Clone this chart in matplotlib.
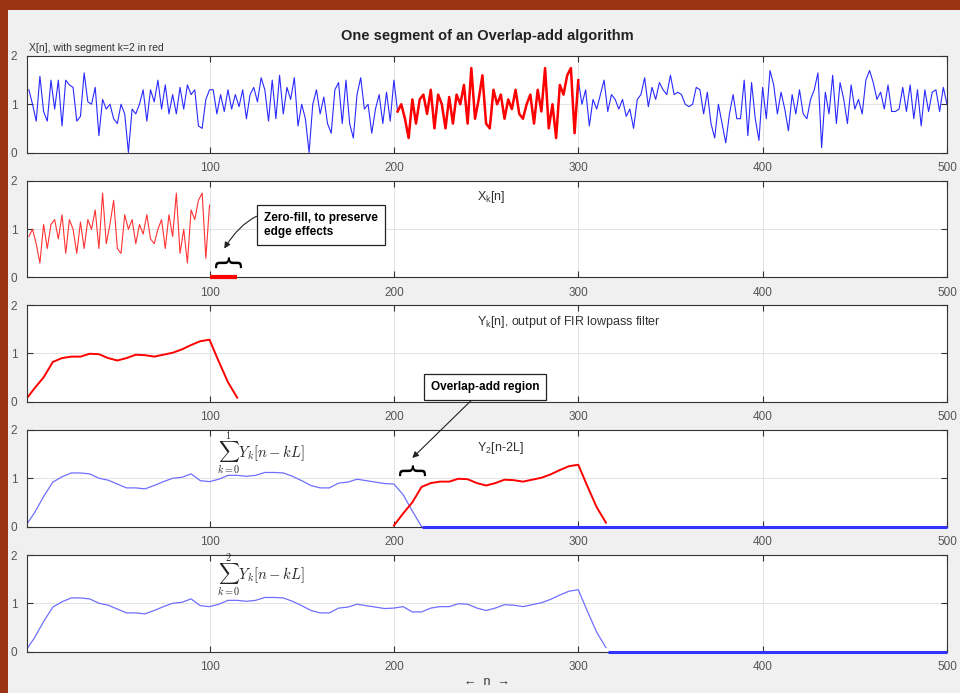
import numpy as np
import matplotlib
matplotlib.use("Agg")
import matplotlib.pyplot as plt
from matplotlib.patches import Rectangle

# input x[n], read every 2nd sample from the plot (n = 2, 4, ..., 500)
x_first = [1.3, 1.0, 0.65, 1.58, 0.85, 0.65, 1.5, 0.9, 1.5, 0.55,
           1.5, 1.4, 1.35, 0.65, 0.75, 1.65, 1.05, 1.0, 1.35, 0.35,
           1.1, 0.9, 1.0, 0.7, 0.6, 1.0, 0.8, 0.0, 0.9, 0.8,
           1.0, 1.3, 0.65, 1.3, 1.05, 1.5, 0.9, 1.4, 0.8, 1.2,
           0.8, 1.35, 0.9, 1.4, 1.2, 1.3, 0.55, 0.5, 1.1, 1.3]
x_second = [1.3, 0.8, 1.2, 0.85, 1.3, 0.9, 1.2, 0.95, 1.3, 0.7,
            1.2, 1.35, 1.05, 1.55, 1.3, 0.65, 1.5, 0.7, 1.6, 0.8,
            1.35, 1.1, 1.55, 0.55, 1.0, 0.7, 0.0, 1.0, 1.3, 0.8,
            1.15, 0.6, 0.4, 1.3, 1.45, 0.6, 1.5, 0.6, 0.3, 1.2,
            1.55, 0.9, 1.0, 0.4, 0.9, 1.2, 0.6, 1.25, 0.65, 1.5]
# segment k=2 (n = 202..300)
x_seg = [0.85, 1.0, 0.7, 0.3, 1.1, 0.6, 1.1, 1.2, 0.8, 1.3,
         0.5, 1.2, 1.0, 0.5, 1.15, 0.6, 1.2, 1.0, 1.4, 0.6,
         1.75, 0.7, 1.1, 1.6, 0.6, 0.5, 1.3, 1.0, 1.2, 0.7,
         1.1, 0.9, 1.3, 0.8, 0.7, 1.0, 1.2, 0.6, 1.3, 0.85,
         1.75, 0.5, 1.0, 0.3, 1.4, 1.2, 1.6, 1.75, 0.4, 1.5]
x_last = [1.0, 1.3, 0.55, 1.1, 0.9, 1.2, 1.5, 0.85, 1.2, 1.1,
          0.9, 1.1, 0.75, 0.9, 0.5, 1.1, 1.2, 1.55, 0.95, 1.35,
          1.1, 1.45, 1.3, 1.2, 1.6, 1.2, 1.25, 1.2, 1.0, 0.95,
          1.0, 1.35, 1.3, 0.8, 1.25, 0.6, 0.3, 1.0, 0.6, 0.2,
          0.8, 1.2, 0.7, 0.7, 1.5, 0.35, 1.45, 0.7, 0.25, 1.35,
          0.7, 1.7, 1.4, 0.8, 1.25, 0.9, 0.45, 1.2, 0.8, 1.3,
          0.8, 0.7, 1.1, 1.3, 1.65, 0.1, 1.25, 0.8, 1.6, 0.6,
          1.45, 1.1, 0.6, 1.4, 0.9, 1.1, 0.8, 1.5, 1.7, 1.45,
          1.1, 1.25, 0.9, 1.4, 0.85, 0.85, 0.9, 1.35, 0.85, 1.4,
          0.7, 1.3, 0.55, 1.3, 0.85, 1.25, 1.3, 0.85, 1.35, 1.0]

# Y_k[n], FIR lowpass output of one segment (n = 0, 5, ..., 115)
y_k = [0.02, 0.27, 0.5, 0.82, 0.9, 0.93, 0.93, 0.99, 0.98, 0.9,
       0.85, 0.9, 0.97, 0.96, 0.93, 0.97, 1.01, 1.08, 1.17, 1.25,
       1.28, 0.83, 0.4, 0.08]
# Y_0 + Y_1[n-L] (n = 0, 5, ..., 215)
y_sum01 = [0.0, 0.28, 0.62, 0.92, 1.03, 1.11, 1.11, 1.09, 1.0, 0.96,
           0.88, 0.8, 0.8, 0.78, 0.85, 0.93, 1.0, 1.02, 1.09, 0.95,
           0.93, 0.98, 1.06, 1.06, 1.04, 1.06, 1.12, 1.12, 1.11, 1.04,
           0.95, 0.85, 0.8, 0.8, 0.9, 0.92, 0.98, 0.95, 0.92, 0.89,
           0.88, 0.66, 0.32, 0.0]

N = 500
L = 100
M = 16          # filter taps -> zero fill of M-1 samples
k = 2
xticks = [100, 200, 300, 400, 500]

x = np.array(x_first + x_second + x_seg + x_last)
n = np.arange(2, N + 1, 2)
n_seg = n[(n > k * L) & (n <= (k + 1) * L)]
xk = np.array(x_seg)
n_k = np.arange(0, 5 * len(y_k), 5)
n_01 = np.arange(0, 5 * len(y_sum01), 5)
n_tot = np.arange(0, k * L + 5 * len(y_k), 5)
y_tot = np.zeros(len(n_tot))
y_tot[:len(y_sum01)] += y_sum01
y_tot[k * L // 5:] += y_k

plt.rcParams['font.family'] = ['Liberation Sans', 'DejaVu Sans']
plt.rcParams['mathtext.fontset'] = 'custom'
plt.rcParams['mathtext.rm'] = 'Liberation Sans'

fig = plt.figure(figsize=(9.6, 6.93), dpi=100, facecolor='#9a3412')
fig.add_artist(Rectangle((8 / 960, 0), 1, 1 - 10 / 693, transform=fig.transFigure,
                         facecolor='#f0f0f0', edgecolor='none', zorder=-5))

tops = [56, 181, 305, 430, 555]
axs = [fig.add_axes([27 / 960, 1 - (t + 96.5) / 693, 920 / 960, 96.5 / 693]) for t in tops]
for ax in axs:
    ax.set_xlim(1, N)
    ax.set_ylim(0, 2)
    ax.set_xticks(xticks)
    ax.set_yticks([0, 1, 2])
    ax.grid(True, color='#e3e3e3', lw=0.7)
    ax.set_axisbelow(True)
    ax.tick_params(direction='in', top=True, right=True, length=4, width=0.8,
                   labelsize=8.5, labelcolor='#555555', color='#333333')
    ax.tick_params(axis='x', pad=7)
    ax.tick_params(axis='y', pad=7)
    for s in ax.spines.values():
        s.set_color('#333333')
        s.set_linewidth(0.8)

fig.text(487 / 960, 1 - 36 / 693, 'One segment of an Overlap-add algorithm',
         ha='center', va='center', fontsize=10.5, fontweight='bold', color='#222222')

box = dict(boxstyle='square,pad=0.6', fc='white', ec='#222222', lw=0.9)
arrow = dict(arrowstyle='-|>', color='#222222', lw=0.8, mutation_scale=9,
             shrinkA=0, shrinkB=0)
zero_line = dict(lw=2.2, zorder=3, clip_on=False, solid_capstyle='butt')

# 1: input with segment k=2 highlighted
ax = axs[0]
ax.plot(n, x, color='#2a2aff', lw=0.8)
ax.plot(n_seg, xk, color='#ff0000', lw=1.8)
ax.text(0.002, 1.03, 'X[n], with segment k=2 in red', transform=ax.transAxes,
        fontsize=7.5, color='#333333', ha='left', va='bottom')

# 2: the segment, zero filled
ax = axs[1]
ax.plot(n_seg - k * L, xk, color='#ff3333', lw=0.8)
ax.plot([L, L + M - 1], [0, 0], color='#ff0000', **dict(zero_line, lw=3))
ax.text(245, 1.67, r'X$_\mathrm{k}$[n]', fontsize=9, color='#333333', va='center')
ax.text(L + (M - 1) / 2, 0.27, '{', rotation=-90, fontsize=20, ha='center', va='center',
        family='DejaVu Sans')
ax.annotate('Zero-fill, to preserve\nedge effects', xy=(108, 0.6),
            xytext=(321 / 960, 1 - 225 / 693), textcoords='figure fraction',
            ha='center', va='center', multialignment='left', fontsize=8.5, fontweight='bold',
            family=['Liberation Sans Narrow', 'Liberation Sans'], bbox=box,
            arrowprops=dict(arrow, connectionstyle='arc3,rad=0.5'))

# 3: filtered segment
ax = axs[2]
ax.plot(n_k, y_k, color='#ff0000', lw=1.4)
ax.text(245, 1.65, r'Y$_\mathrm{k}$[n], output of FIR lowpass filter', fontsize=9,
        color='#333333', va='center')

# 4: partial sum and shifted Y_2
ax = axs[3]
ax.plot(n_01, y_sum01, color='#6f6fff', lw=0.9)
ax.plot([n_01[-1], N], [0, 0], color='#3333ff', **zero_line)
ax.plot(n_k + k * L, y_k, color='#ff0000', lw=1.4)
ax.text(245, 1.62, r'Y$_\mathrm{2}$[n-2L]', fontsize=9, color='#333333', va='center')
ax.text(104, 1.52, r'$\sum_{k=0}^{1} Y_k[n-kL]$', fontsize=10.5,
        math_fontfamily='cm', va='center', color='#222222')
ax.text(207.5, 1.12, '{', rotation=-90, fontsize=20, ha='center', va='center',
        family='DejaVu Sans')
ax.annotate('Overlap-add region', xy=(210, 1.42),
            xytext=(485 / 960, 1 - 387 / 693), textcoords='figure fraction',
            ha='center', va='center', fontsize=8.5, fontweight='bold',
            family=['Liberation Sans Narrow', 'Liberation Sans'], bbox=box,
            arrowprops=arrow)

# 5: full sum up to segment k=2
ax = axs[4]
ax.plot(n_tot, y_tot, color='#6f6fff', lw=0.9)
ax.plot([n_tot[-1] + 1, N], [0, 0], color='#3333ff', **zero_line)
ax.text(104, 1.57, r'$\sum_{k=0}^{2} Y_k[n-kL]$', fontsize=10.5,
        math_fontfamily='cm', va='center', color='#222222')
ax.set_xlabel('\u2190  n  \u2192', fontsize=9, color='#333333', labelpad=2)

fig.savefig('out.png', dpi=100, facecolor=fig.get_facecolor())
